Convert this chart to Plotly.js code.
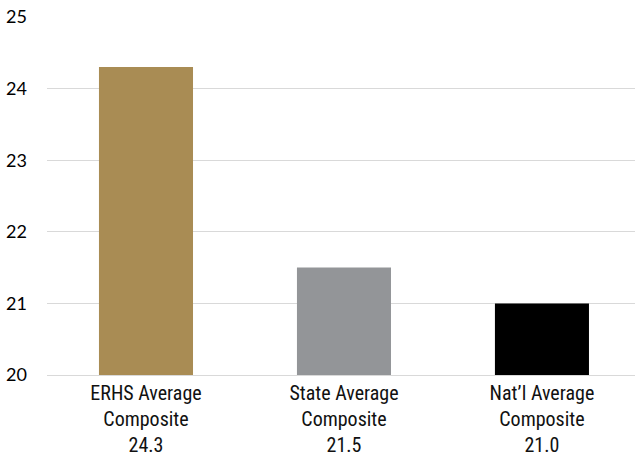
<!DOCTYPE html>
<html><head><meta charset="utf-8">
<script src="https://cdn.plot.ly/plotly-3.0.1.min.js"></script>
<style>body{margin:0}#c{width:635px;height:456px}</style>
</head><body><div id="c"></div>
<script>
const categories = ["ERHS Average<br>Composite<br>24.3", "State Average<br>Composite<br>21.5", "Nat’l Average<br>Composite<br>21.0"];
const values = [24.3, 21.5, 21.0];
const colors = ["#A98C54", "#939598", "#000000"];
const yTicks = [20, 21, 22, 23, 24, 25];
const baseValue = 20;

Plotly.newPlot("c", [{
  type: "bar",
  x: categories,
  y: values.map(v => v - baseValue),
  base: baseValue,
  marker: {color: colors},
  hoverinfo: "none"
}], {
  width: 635, height: 456,
  margin: {l: 47, r: 0, t: 17, b: 81},
  paper_bgcolor: "#fff", plot_bgcolor: "#fff",
  bargap: 0.525,
  showlegend: false,
  xaxis: {
    range: [-0.5, 2.47],
    tickfont: {family: "Liberation Sans Narrow, Arial Narrow, Roboto Condensed, Liberation Sans", size: 20, color: "#111"},
    showline: true, linecolor: "#d9d9d9", linewidth: 1,
    ticks: "", fixedrange: true
  },
  yaxis: {
    range: [20, 25],
    tickvals: yTicks,
    tickfont: {family: "Lato, Open Sans, sans-serif", size: 18, color: "#000"},
    gridcolor: "#d9d9d9", gridwidth: 1,
    zeroline: false, showline: false, ticks: "",
    ticklabelstandoff: 19, fixedrange: true
  }
}, {staticPlot: true});
</script></body></html>
